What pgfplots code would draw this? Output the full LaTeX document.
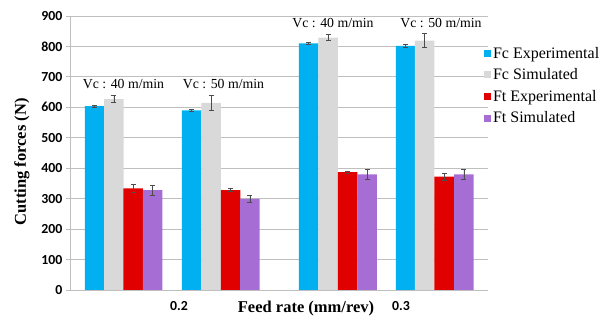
\documentclass[border=0pt]{standalone}
\usepackage{pgfplots}
\pgfplotsset{compat=1.18}
\usepackage{fontspec}
\setmainfont{Liberation Serif}
\newfontfamily\tickfont{Carlito}
\definecolor{cblue}{HTML}{00B0F0}
\definecolor{cgray}{HTML}{D9D9D9}
\definecolor{cred}{HTML}{E00000}
\definecolor{cpurp}{HTML}{A66DD4}
\definecolor{gridc}{HTML}{BFBFBF}
\begin{document}
\begin{tikzpicture}[x=1pt,y=1pt]
\path[use as bounding box] (0,0) rectangle (604,320);
\begin{axis}[
  at={(70pt,30pt)}, anchor=south west,
  scale only axis, width=418pt, height=274pt,
  xmin=70, xmax=488, ymin=0, ymax=900,
  axis x line*=bottom, axis y line*=left,
  axis line style={gridc,-},
  ymajorgrids, grid style={gridc, line width=0.8pt},
  ytick={0,100,...,900},
  xtick={179,401}, xticklabels={0.2,0.3},
  x tick style={draw=none},
  y tick style={gridc, line width=0.8pt},
  tick align=outside, major tick length=4pt,
  tick label style={font=\tickfont\bfseries\fontsize{13.8}{15}\selectfont},
  /pgf/number format/assume math mode=true,
  xticklabel style={yshift=-4pt},
  ybar, bar width=19.5, bar shift=0pt,
  error bars/y dir=both, error bars/y explicit,
  error bars/error bar style={black!70, line width=0.6pt},
  error bars/error mark options={rotate=90, mark size=2.5pt, black!70, line width=0.6pt},
  legend style={at={(rel axis cs:0.99,0.895)}, anchor=north west, draw=none, fill=none,
    font=\fontsize{16}{18}\selectfont, row sep=5pt, inner sep=0pt},
  legend cell align=left,
  legend image code/.code={\fill[#1] (0pt,-3.5pt) rectangle (7pt,3.5pt);},
]
\addplot[fill=cblue, draw=none] coordinates {(94.5,604) +- (0,4) (191.5,590) +- (0,3) (308.5,810) +- (0,4) (405.5,802) +- (0,5)};
\addplot[fill=cgray, draw=none] coordinates {(113.8,627) +- (0,11) (211,615) +- (0,25) (328,829) +- (0,10) (424.5,819) +- (0,23)};
\addplot[fill=cred, draw=none] coordinates {(133.2,334) +- (0,13) (230.5,328) +- (0,5) (347.7,387) +- (0,3) (444,372) +- (0,11)};
\addplot[fill=cpurp, draw=none] coordinates {(152.7,328) +- (0,17) (249.8,299) +- (0,12) (367.2,380) +- (0,15) (463.8,380) +- (0,15)};
\legend{Fc Experimental, Fc Simulated, Ft Experimental, Ft Simulated}
\node[font=\fontsize{13.8}{15}\selectfont] at (axis cs:123.5,676) {Vc : 40 m/min};
\node[font=\fontsize{13.8}{15}\selectfont] at (axis cs:223.5,676) {Vc : 50 m/min};
\node[font=\fontsize{13.8}{15}\selectfont] at (axis cs:333,876) {Vc : 40 m/min};
\node[font=\fontsize{13.8}{15}\selectfont] at (axis cs:441,876) {Vc : 50 m/min};
\end{axis}
\node[rotate=90, font=\bfseries\fontsize{16.5}{18}\selectfont] at (22,158) {Cutting forces (N)};
\node[font=\bfseries\fontsize{16.5}{18}\selectfont] at (306,11) {Feed rate (mm/rev)};
\end{tikzpicture}
\end{document}
